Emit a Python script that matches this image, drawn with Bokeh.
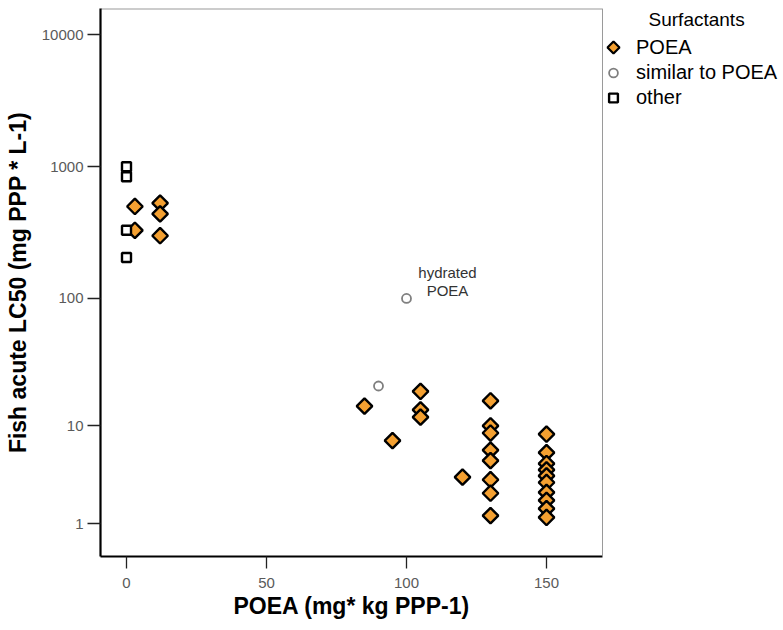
import numpy as np
from bokeh.plotting import figure
from bokeh.models import (FixedTicker, CustomJSTickFormatter, Legend, LegendItem,
                          Range1d, Span, Label)
from bokeh.embed import file_html
from bokeh.resources import INLINE
from bokeh.core.properties import value

# ---------------- data ----------------
poea_x = [3, 3, 12, 12, 12,
          85, 95, 105, 105, 105, 120,
          130, 130, 130, 130, 130, 130, 130, 130,
          150, 150, 150, 150, 150, 150, 150, 150, 150, 150]
poea_y = [500, 330, 530, 440, 300,
          14.5, 7.5, 19, 13.5, 11.8, 3.5,
          16, 10, 8.7, 6.2, 5.0, 3.3, 2.4, 1.3,
          8.5, 5.9, 4.7, 4.1, 3.6, 3.1, 2.45, 2.0, 1.6, 1.23]

similar_x = [90, 100]
similar_y = [21, 100]

other_x = [0, 0, 0, 0]
other_y = [1000, 840, 330, 205]

x_ticks = [0, 50, 100, 150]
y_tick_values = [1, 10, 100, 1000, 10000]

annotation_text = "hydrated\nPOEA"
legend_labels = ["POEA", "similar to POEA", "other"]
legend_title = "Surfactants"
x_title = "POEA (mg* kg PPP-1)"
y_title = "Fish acute LC50 (mg PPP * L-1)"


def safe_log(v):
    # SPSS "safe log" scale: log10(v + 1)
    return np.log10(np.asarray(v, dtype=float) + 1.0)


FONT = "Liberation Sans"
ORANGE = "#F4A031"

W, H = 783, 630
BORDER_L, BORDER_R, BORDER_T, BORDER_B = 100, 0, 8, 74
X_START, X_AXIS_END, X_END = -9.2857, 170.0, 234.64
Y_START, Y_END = 0.053, 4.197

p = figure(width=W, height=H, output_backend="svg", toolbar_location=None,
           x_range=Range1d(X_START, X_END), y_range=Range1d(Y_START, Y_END),
           min_border_left=BORDER_L, min_border_right=BORDER_R,
           min_border_top=BORDER_T, min_border_bottom=BORDER_B)
p.grid.visible = False
p.outline_line_color = None
p.background_fill_color = "white"
p.border_fill_color = "white"

# plot box: right and top edges (thin grey)
p.add_layout(Span(location=X_AXIS_END, dimension="height",
                  line_color="#9a9a9a", line_width=1))
p.segment(x0=[X_START], x1=[X_AXIS_END], y0=[Y_END], y1=[Y_END],
          line_color="#9a9a9a", line_width=2)

# x axis
xa = p.xaxis[0]
xa.ticker = FixedTicker(ticks=x_ticks)
xa.bounds = (X_START, X_AXIS_END)
# y axis
ya = p.yaxis[0]
ya.ticker = FixedTicker(ticks=[float(t) for t in safe_log(y_tick_values)])
ya.formatter = CustomJSTickFormatter(code="return String(Math.round(Math.pow(10, tick) - 1));")
ya.axis_label = y_title

for ax in (xa, ya):
    ax.axis_line_color = "black"
    ax.axis_line_width = 2.2
    ax.major_tick_line_color = "#222222"
    ax.major_tick_line_width = 1.3
    ax.major_tick_in = 0
    ax.minor_tick_line_color = None
    ax.major_label_text_font = FONT
    ax.major_label_text_font_size = "15px"
    ax.major_label_text_color = "#5a5a5a"
    ax.axis_label_text_font = FONT
    ax.axis_label_text_font_size = "23px"
    ax.axis_label_text_font_style = "bold"
    ax.axis_label_text_color = "black"

xa.major_tick_out = 12
xa.major_label_standoff = 9
ya.major_tick_out = 13
ya.major_label_standoff = 4
ya.axis_label_standoff = 8

# x-axis title as a figure title placed below, aligned under the plot box
p.title.text = x_title
p.title_location = "below"
p.title.align = "left"
p.title.offset = 133
p.title.text_font = FONT
p.title.text_font_size = "23px"
p.title.text_font_style = "bold"
p.title.text_color = "black"
p.title.standoff = 0

# markers: diamonds first, then circles, then squares on top
r_poea = p.scatter(poea_x, safe_log(poea_y), marker="square", angle=np.pi / 4,
                   size=11, fill_color=ORANGE, line_color="black", line_width=2.4)
r_sim = p.scatter(similar_x, safe_log(similar_y), marker="circle", size=9,
                  fill_color="white", line_color="#7f7f7f", line_width=1.8)
r_other = p.scatter(other_x, safe_log(other_y), marker="square", size=9,
                    fill_color="white", line_color="black", line_width=2.4)

# annotation next to the hydrated POEA point
p.text(x=[similar_x[1]], y=safe_log([similar_y[1]]), text=[annotation_text],
       x_offset=41, y_offset=-17, text_align="center", text_baseline="middle",
       text_font=value(FONT), text_font_size="15px", text_color="#333333",
       text_line_height=1.07)

# ---------------- legend ----------------
# screen px measured from the frame's left / top edge
LEG_X, LEG_TOP, ROW_H, GLYPH_W = 502, 26.5, 25, 22
frame_h = H - BORDER_T - BORDER_B
n_rows = len(legend_labels)

# legend glyph for POEA: Bokeh legends do not rotate markers, so the legend entry
# carries an empty glyph and the rotated-square symbol is drawn at its slot
r_poea_key = p.scatter([], [], marker="square", size=0, fill_alpha=0, line_alpha=0)
px_per_x = (W - BORDER_L - BORDER_R) / (X_END - X_START)
px_per_y = frame_h / (Y_END - Y_START)
key_x = X_START + (LEG_X + GLYPH_W / 2) / px_per_x
key_y = Y_END - (LEG_TOP + ROW_H / 2) / px_per_y
p.scatter([key_x], [key_y], marker="square", angle=np.pi / 4, size=8.5,
          fill_color=ORANGE, line_color="black", line_width=2.2)

legend = Legend(items=[LegendItem(label=legend_labels[0], renderers=[r_poea_key]),
                       LegendItem(label=legend_labels[1], renderers=[r_sim]),
                       LegendItem(label=legend_labels[2], renderers=[r_other])],
                location=(LEG_X, frame_h - LEG_TOP - n_rows * ROW_H),
                padding=0, margin=0, spacing=0,
                glyph_width=GLYPH_W, glyph_height=ROW_H, label_height=ROW_H,
                label_standoff=12, label_text_font=FONT,
                label_text_font_size="20px", label_text_color="black",
                border_line_color=None, background_fill_alpha=0)
p.add_layout(legend)

p.add_layout(Label(x=203.6, y=4.114, text=legend_title, text_align="center",
                   text_baseline="middle", text_font=FONT,
                   text_font_size="19px", text_color="black"))

open("out.html", "w").write(file_html(p, INLINE))
